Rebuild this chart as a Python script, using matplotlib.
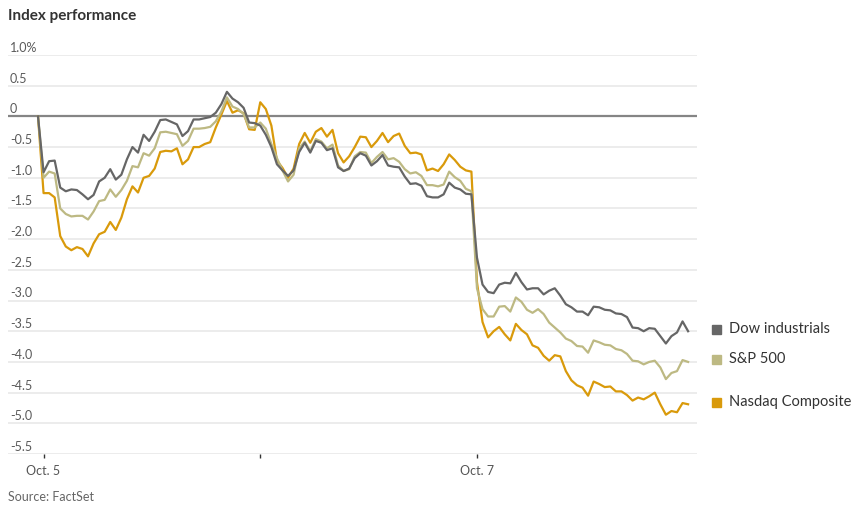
import numpy as np
import matplotlib
matplotlib.use("Agg")
import matplotlib.pyplot as plt
from matplotlib.patches import Rectangle

plt.rcParams['font.family'] = ['Lato', 'DejaVu Sans']

# 10-minute steps, 39 steps per trading day, Oct. 5 open to Oct. 7 close
steps = np.arange(118)

dow = [0, -0.91, -0.73, -0.72, -1.16, -1.22, -1.19, -1.20, -1.27, -1.35,
       -1.28, -1.06, -1.00, -0.86, -1.03, -0.95, -0.70, -0.50, -0.59, -0.30,
       -0.40, -0.25, -0.06, -0.05, -0.09, -0.13, -0.32, -0.24, -0.05, -0.05,
       -0.03, -0.01, 0.06, 0.20, 0.40, 0.29, 0.23, 0.14, -0.10, -0.11,
       -0.15, -0.30, -0.50, -0.78, -0.88, -0.97, -0.88, -0.58, -0.43, -0.59,
       -0.40, -0.43, -0.55, -0.52, -0.83, -0.89, -0.85, -0.68, -0.60, -0.64,
       -0.80, -0.73, -0.63, -0.80, -0.82, -0.83, -0.98, -1.10, -1.09, -1.13,
       -1.30, -1.32, -1.32, -1.27, -1.08, -1.16, -1.19, -1.26, -1.27, -2.30,
       -2.74, -2.86, -2.88, -2.74, -2.71, -2.72, -2.55, -2.70, -2.82, -2.80,
       -2.80, -2.90, -2.84, -2.80, -2.92, -3.06, -3.11, -3.18, -3.18, -3.24,
       -3.10, -3.11, -3.15, -3.16, -3.21, -3.22, -3.27, -3.44, -3.45, -3.50,
       -3.45, -3.46, -3.58, -3.70, -3.58, -3.52, -3.34, -3.50]

sp500 = [0, -1.00, -0.90, -0.93, -1.50, -1.59, -1.63, -1.62, -1.62, -1.68,
         -1.55, -1.38, -1.36, -1.19, -1.31, -1.20, -1.05, -0.81, -0.83, -0.60,
         -0.64, -0.52, -0.26, -0.25, -0.27, -0.29, -0.48, -0.40, -0.20, -0.20,
         -0.19, -0.17, -0.08, 0.08, 0.31, 0.16, 0.12, 0.04, -0.18, -0.18,
         -0.10, -0.20, -0.45, -0.68, -0.88, -1.06, -0.95, -0.52, -0.41, -0.57,
         -0.37, -0.41, -0.52, -0.46, -0.80, -0.89, -0.86, -0.65, -0.58, -0.59,
         -0.76, -0.66, -0.58, -0.70, -0.68, -0.74, -0.86, -0.93, -0.91, -0.97,
         -1.12, -1.12, -1.14, -1.11, -0.90, -0.99, -1.05, -1.18, -1.22, -2.80,
         -3.14, -3.26, -3.26, -3.10, -3.09, -3.18, -2.95, -3.02, -3.15, -3.20,
         -3.14, -3.22, -3.36, -3.44, -3.52, -3.62, -3.66, -3.74, -3.75, -3.85,
         -3.65, -3.68, -3.72, -3.73, -3.79, -3.81, -3.87, -3.98, -3.99, -4.04,
         -4.00, -3.98, -4.09, -4.28, -4.18, -4.15, -3.97, -4.00]

nasdaq = [0, -1.25, -1.25, -1.32, -1.95, -2.12, -2.18, -2.13, -2.16, -2.28,
          -2.07, -1.92, -1.88, -1.72, -1.85, -1.65, -1.35, -1.14, -1.24, -1.00,
          -0.97, -0.85, -0.58, -0.56, -0.57, -0.52, -0.78, -0.70, -0.50, -0.50,
          -0.45, -0.42, -0.18, 0.03, 0.25, 0.06, 0.10, 0.05, -0.21, -0.22,
          0.23, 0.12, -0.15, -0.72, -0.84, -1.00, -0.85, -0.45, -0.27, -0.43,
          -0.25, -0.19, -0.33, -0.22, -0.60, -0.75, -0.65, -0.50, -0.33, -0.34,
          -0.50, -0.40, -0.27, -0.42, -0.32, -0.28, -0.48, -0.60, -0.59, -0.62,
          -0.88, -0.85, -0.89, -0.78, -0.62, -0.71, -0.82, -0.88, -0.90, -2.70,
          -3.35, -3.60, -3.50, -3.43, -3.55, -3.65, -3.38, -3.48, -3.55, -3.73,
          -3.77, -3.90, -3.98, -3.89, -3.91, -4.15, -4.30, -4.38, -4.42, -4.55,
          -4.32, -4.36, -4.41, -4.40, -4.48, -4.48, -4.54, -4.63, -4.58, -4.61,
          -4.56, -4.50, -4.69, -4.86, -4.80, -4.82, -4.67, -4.69]

y_ticks = [1.0, 0.5, 0, -0.5, -1.0, -1.5, -2.0, -2.5, -3.0, -3.5, -4.0, -4.5, -5.0, -5.5]
y_labels = ["1.0%", "0.5", "0", "-0.5", "-1.0", "-1.5", "-2.0", "-2.5", "-3.0",
            "-3.5", "-4.0", "-4.5", "-5.0", "-5.5"]
x_ticks = [1, 40, 79]
x_labels = ["Oct. 5", "", "Oct. 7"]

names = ["Dow industrials", "S&P 500", "Nasdaq Composite"]
colors = ["#666666", "#bdb983", "#d99a0b"]

fig = plt.figure(figsize=(8.63, 5.12), dpi=100)
ax = fig.add_axes([8 / 863, 1 - 454 / 512, 689 / 863, 399 / 512])

for v in y_ticks:
    if v == 0:
        ax.axhline(v, color="#858585", lw=1.6, zorder=1)
    else:
        ax.axhline(v, color="#ebebeb", lw=1.3, zorder=0)

ax.plot(steps, nasdaq, color=colors[2], lw=1.6, zorder=3)
ax.plot(steps, sp500, color=colors[1], lw=1.6, zorder=4)
ax.plot(steps, dow, color=colors[0], lw=1.6, zorder=5)

ax.set_xlim(-5.4, 118.6)
ax.set_ylim(-5.5, 1.0)
for s in ax.spines.values():
    s.set_visible(False)
ax.set_yticks([])
ax.set_xticks(x_ticks)
ax.set_xticklabels(x_labels)
ax.tick_params(axis="x", length=3, width=1, color="#333333", labelcolor="#555555",
               labelsize=9, pad=5)

for v, lab in zip(y_ticks, y_labels):
    ax.annotate(lab, xy=(0, v), xycoords=ax.get_yaxis_transform(),
                xytext=(1.5, 0.8), textcoords="offset points",
                ha="left", va="bottom", fontsize=9, color="#5a5a5a")

fig.text(8 / 863, 1 - 16 / 512, "Index performance", fontsize=11, fontweight="bold",
         color="#333333", ha="left", va="center")
fig.text(8 / 863, 1 - 497 / 512, "Source: FactSet", fontsize=9, color="#666666",
         ha="left", va="center")

leg_y = [329, 359, 402]
for name, c, yp in zip(names, colors, leg_y):
    fig.add_artist(Rectangle((712 / 863, 1 - (yp + 4.5) / 512), 9 / 863, 9 / 512,
                             transform=fig.transFigure, color=c))
    fig.text(729 / 863, 1 - yp / 512, name, fontsize=10.5, color="#333333",
             ha="left", va="center")

fig.savefig("out.png", dpi=100)
